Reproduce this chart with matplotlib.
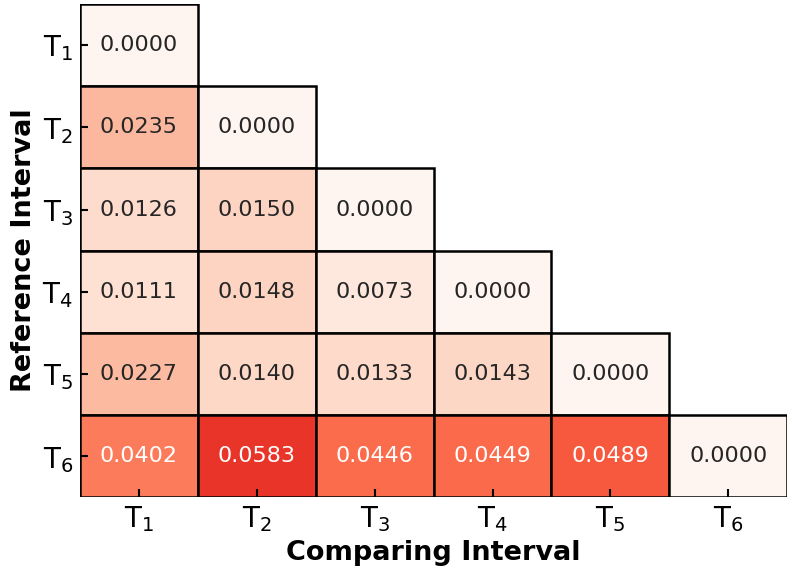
import numpy as np
import matplotlib
matplotlib.use("Agg")
import matplotlib.pyplot as plt
from matplotlib import colors
from matplotlib.patches import Rectangle

rotulos = ["T$_1$", "T$_2$", "T$_3$", "T$_4$", "T$_5$", "T$_6$"]

linha1 = [0.0000]
linha2 = [0.0235, 0.0000]
linha3 = [0.0126, 0.0150, 0.0000]
linha4 = [0.0111, 0.0148, 0.0073, 0.0000]
linha5 = [0.0227, 0.0140, 0.0133, 0.0143, 0.0000]
linha6 = [0.0402, 0.0583, 0.0446, 0.0449, 0.0489, 0.0000]

linhas = [linha1, linha2, linha3, linha4, linha5, linha6]
n = len(rotulos)

cmap = plt.get_cmap("Reds")
norma = colors.Normalize(vmin=0.0, vmax=0.09)


def luminancia(rgba):
    # mesma conta que o seaborn usa para escolher a cor do texto
    rgb = np.array(rgba[:3])
    rgb = np.where(rgb <= 0.03928, rgb / 12.92, ((rgb + 0.055) / 1.055) ** 2.4)
    return rgb.dot([0.2126, 0.7152, 0.0722])


figura = plt.figure(figsize=(7.92, 5.73), dpi=100)
ax = figura.add_axes([0.101, 0.132, 0.893, 0.861])

for i, linha in enumerate(linhas):
    for j, v in enumerate(linha):
        corCelula = cmap(norma(v))
        ax.add_patch(Rectangle((j, i), 1, 1, facecolor=corCelula,
                               edgecolor="black", linewidth=1.8, zorder=1))
        cor = "white" if luminancia(corCelula) < 0.408 else "#262626"
        ax.text(j + 0.5, i + 0.5, f"{v:.4f}", ha="center", va="center",
                color=cor, fontsize=16, zorder=3)

ax.set_xlim(0, n)
ax.set_ylim(n, 0)

ax.set_xticks(np.arange(n) + 0.5)
ax.set_yticks(np.arange(n) + 0.5)
ax.set_xticklabels(rotulos, fontsize=20)
ax.set_yticklabels(rotulos, fontsize=20, rotation=0)
ax.tick_params(direction="in", length=6, width=1.5, pad=5)
for s in ax.spines.values():
    s.set_visible(False)

ax.set_xlabel("Comparing Interval", fontsize=19.5, fontweight="bold", labelpad=4)
ax.set_ylabel("Reference Interval", fontsize=19.5, fontweight="bold", labelpad=4)

figura.savefig("out.png", dpi=100)
